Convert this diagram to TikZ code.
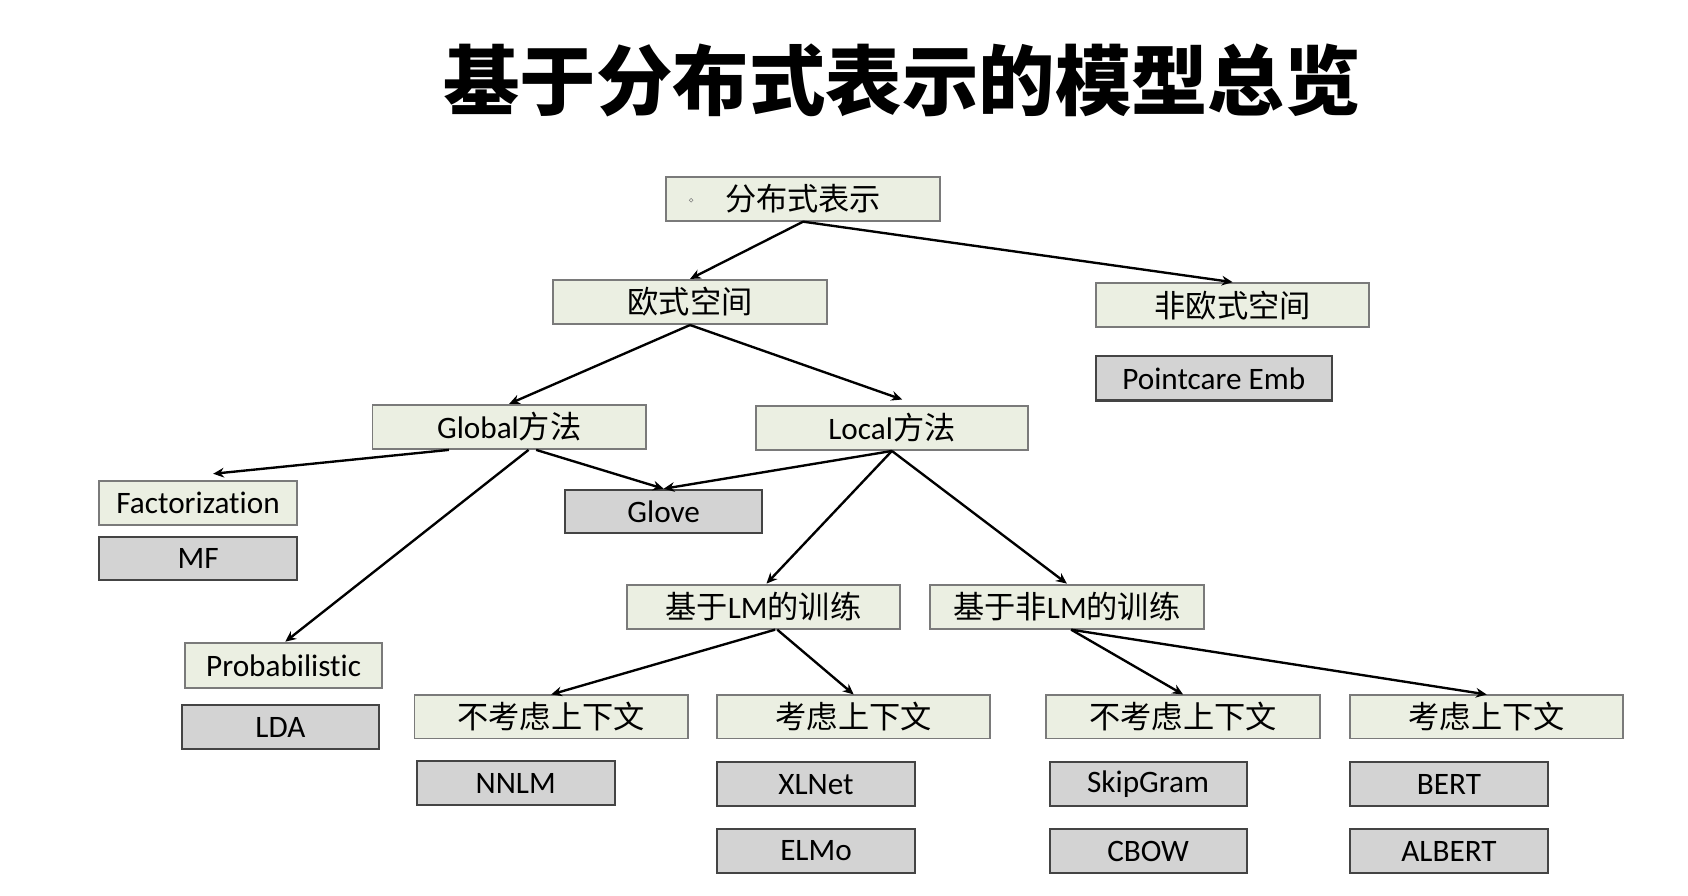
\documentclass[tikz,border=0pt]{standalone}
\usepackage{fontspec}
\setmainfont{Carlito}[Ligatures={NoCommon}]
\newfontfamily\cjk{Noto Sans CJK SC}
\usetikzlibrary{arrows.meta,calc}
\definecolor{gfill}{HTML}{EBEFE2}
\definecolor{gdraw}{HTML}{7A7A7A}
\definecolor{kfill}{HTML}{D3D3D3}
\definecolor{kdraw}{HTML}{444444}
\begin{document}
\begin{tikzpicture}[x=1pt,y=-1pt,
  gbox/.style={draw=gdraw, fill=gfill, line width=1.8pt, minimum width=254pt, minimum height=41pt, inner sep=0pt, font=\fontsize{29}{31}\selectfont},
  kbox/.style={draw=kdraw, fill=kfill, line width=2pt, minimum width=184pt, minimum height=41pt, inner sep=0pt, font=\fontsize{29}{31}\selectfont},
  arr/.style={-{Stealth[length=10pt,width=9pt]}, line width=2.2pt, black}]
\useasboundingbox[fill=white] (0,0) rectangle (1568,832.3);
\node[font=\cjk\bfseries\fontsize{71}{75}\selectfont] (title) at (838,75) {基于分布式表示的模型总览};

\node[gbox] (root) at (746,184.5) {\cjk 分布式表示};
\node[circle, draw=gray, inner sep=0pt, minimum size=3.5pt, line width=0.6pt] (dot) at (642,186) {};
\node[gbox] (eu) at (641,280.5) {\cjk 欧式空间};
\node[gbox] (neu) at (1145,283.5) {\cjk 非欧式空间};
\node[kbox, minimum width=219pt] (pc) at (1127.5,351.5) {Pointcare Emb};
\node[gbox] (glob) at (473,396.5) {Global{\cjk 方法}};
\node[gbox, minimum width=253pt] (loc) at (828.5,397.5) {Local{\cjk 方法}};
\node[gbox, minimum width=184pt] (fact) at (184,467.5) {Factorization};
\node[kbox, minimum height=40pt] (mf) at (184,519) {MF};
\node[kbox, minimum width=183pt, minimum height=40pt] (glove) at (616.5,475) {Glove};
\node[gbox] (lm) at (709,563.5) {{\cjk 基于}LM{\cjk 的训练}};
\node[gbox] (nlm) at (991,563.5) {{\cjk 基于非}LM{\cjk 的训练}};
\node[gbox, minimum width=183pt, minimum height=42pt] (prob) at (263.5,618) {Probabilistic};
\node[kbox, minimum width=183pt] (lda) at (260.5,675.5) {LDA};
\node[gbox, minimum height=40pt] (c1) at (512,666) {\cjk 不考虑上下文};
\node[gbox, minimum height=40pt] (c2) at (793,666) {\cjk 考虑上下文};
\node[gbox, minimum height=40pt] (c3) at (1099,666) {\cjk 不考虑上下文};
\node[gbox, minimum height=40pt] (c4) at (1381,666) {\cjk 考虑上下文};
\node[kbox] (nnlm) at (479,727.5) {NNLM};
\node[kbox] (xlnet) at (758,728.5) {XLNet};
\node[kbox] (elmo) at (758,790.5) {ELMo};
\node[kbox, minimum width=183pt] (skip) at (1066.5,728.5) {SkipGram};
\node[kbox, minimum width=183pt] (cbow) at (1066.5,790.5) {CBOW};
\node[kbox] (bert) at (1346,728.5) {BERT};
\node[kbox] (albert) at (1346,790.5) {ALBERT};

\draw[arr] (root.south) -- (eu.north);
\draw[arr] (root.south) -- (neu.north);
\draw[arr] (eu.south) -- (glob.north);
\draw[arr] (eu.south) -- ([xshift=9.5pt,yshift=5pt]loc.north);
\draw[arr] ([xshift=-56pt]glob.south) -- ([xshift=14pt,yshift=6pt]fact.north);
\draw[arr] ([xshift=18pt]glob.south) -- ([xshift=1.5pt]prob.north);
\draw[arr] ([xshift=25pt]glob.south) -- (glove.north);
\draw[arr] (loc.south) -- (glove.north);
\draw[arr] (loc.south) -- ([xshift=3pt]lm.north);
\draw[arr] (loc.south) -- (nlm.north);
\draw[arr] ([xshift=11pt]lm.south) -- (c1.north);
\draw[arr] ([xshift=13pt]lm.south) -- (c2.north);
\draw[arr] ([xshift=4pt]nlm.south) -- (c3.north);
\draw[arr] ([xshift=4pt]nlm.south) -- (c4.north);
\end{tikzpicture}
\end{document}
